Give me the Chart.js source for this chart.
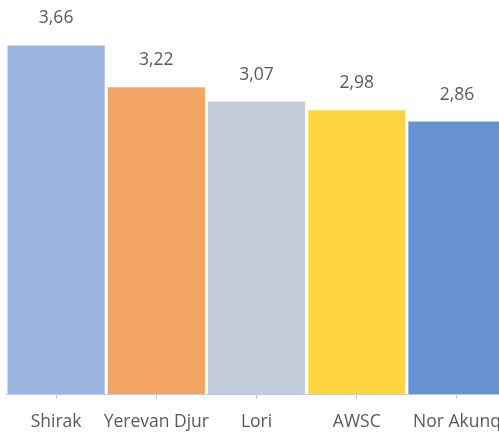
<!DOCTYPE html>
<html>
<head>
<meta charset="utf-8">
<script src="https://cdn.jsdelivr.net/npm/chart.js@4"></script>
<style>
  html, body { margin: 0; padding: 0; background: #fff; overflow: hidden; }
  #wrap { width: 514px; height: 452px; position: relative; }
</style>
</head>
<body>
<div id="wrap"><canvas id="myChart"></canvas></div>
<script>
// values
const regions = ['Shirak', 'Yerevan Djur', 'Lori', 'AWSC', 'Nor Akunq'];
const scores = [3.66, 3.22, 3.07, 2.98, 2.86];
const barColors = ['#9db6e1', '#f3a565', '#c4cddc', '#fed440', '#6692d2'];

const fontFam = '"Open Sans", "Liberation Sans", sans-serif';

// draws "3,66" etc above every bar
const valueLabels = {
  id: 'valueLabels',
  afterDatasetsDraw(chart) {
    const ctx = chart.ctx;
    const meta = chart.getDatasetMeta(0);
    ctx.save();
    ctx.font = '17.5px ' + fontFam;
    ctx.fillStyle = '#595959';
    ctx.textAlign = 'center';
    ctx.textBaseline = 'middle';
    meta.data.forEach((bar, i) => {
      ctx.fillText(scores[i].toFixed(2).replace('.', ','), bar.x, bar.y - 27);
    });
    ctx.restore();
  }
};

const ctx = document.getElementById('myChart').getContext('2d');
let myChart = new Chart(ctx, {
  type: 'bar',
  data: {
    labels: regions,
    datasets: [{
      data: scores,
      backgroundColor: barColors,
      borderWidth: 0,
      barPercentage: 0.97,
      categoryPercentage: 1
    }]
  },
  options: {
    responsive: true,
    maintainAspectRatio: false,
    animation: false,
    layout: { padding: { left: 6, right: 1, top: 13, bottom: 6 } },
    plugins: {
      legend: { display: false },
      tooltip: { enabled: false }
    },
    scales: {
      x: {
        grid: {
          display: true,
          drawOnChartArea: false,
          drawTicks: true,
          tickLength: 5,
          color: '#bfcadb',
          offset: false
        },
        border: { display: true, color: '#bfcadb', width: 1 },
        ticks: {
          color: '#595959',
          font: { family: fontFam, size: 17.5 },
          padding: 13,
          maxRotation: 0,
          autoSkip: false
        }
      },
      y: {
        display: false,
        min: 0,
        max: 4
      }
    }
  },
  plugins: [valueLabels]
});
</script>
</body>
</html>
